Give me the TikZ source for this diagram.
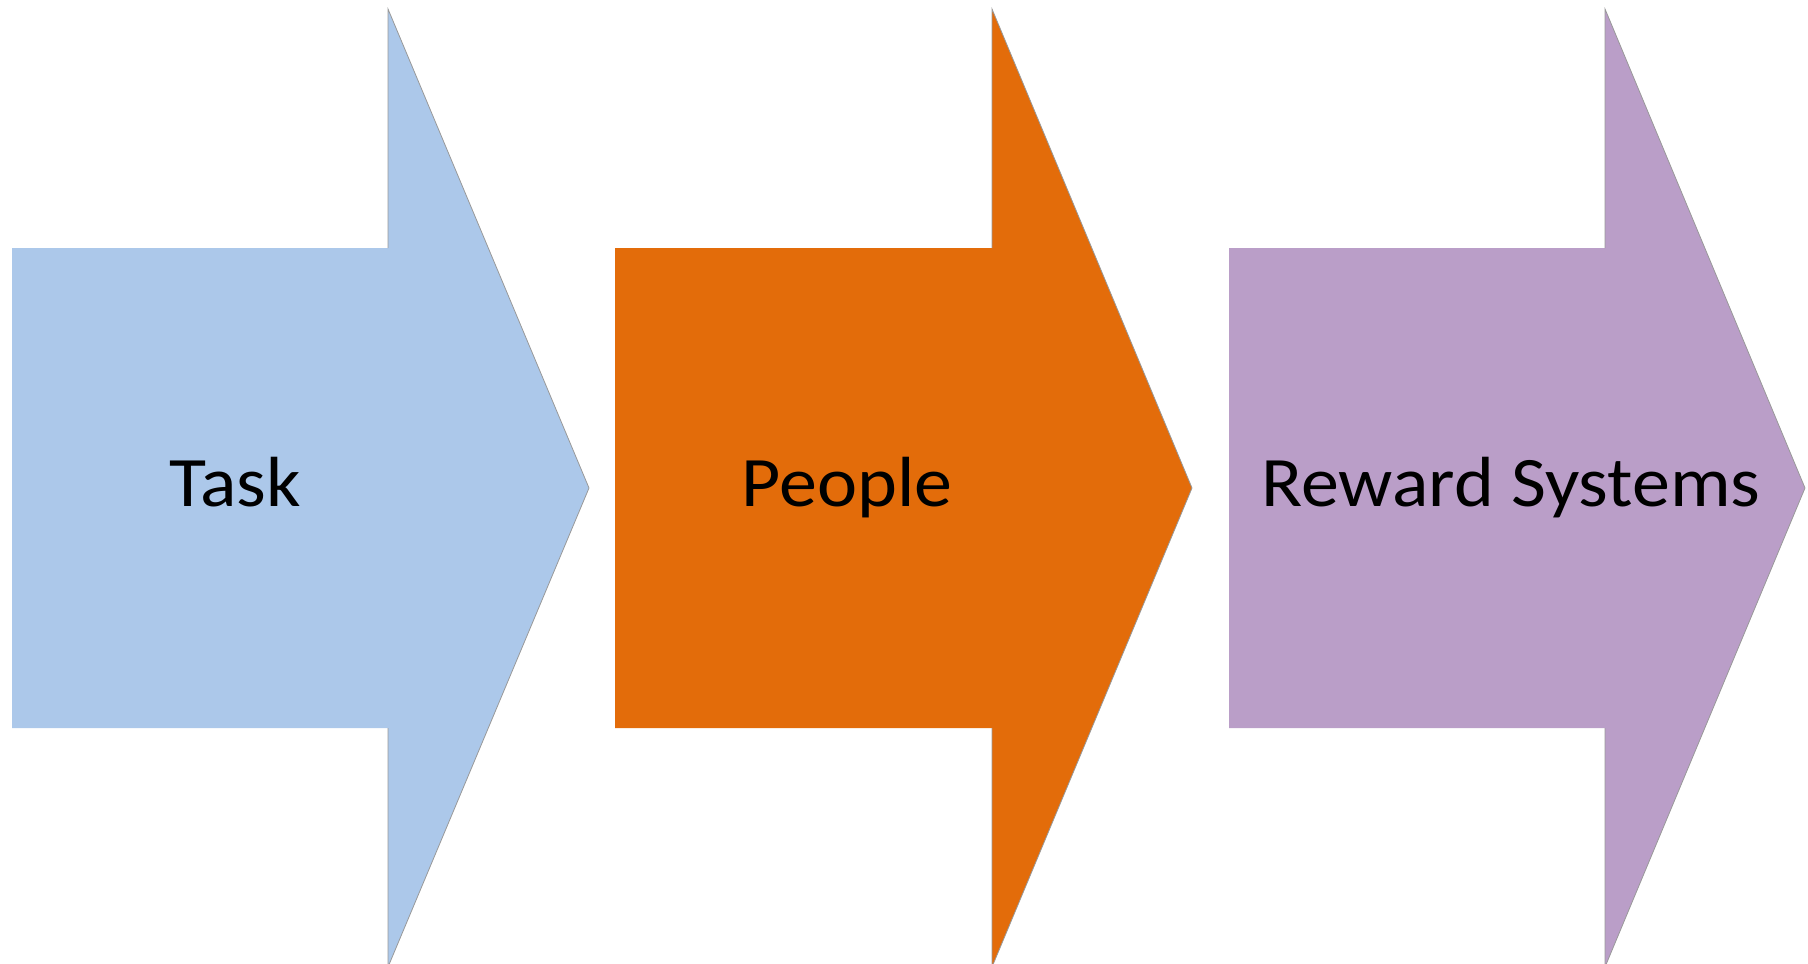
\documentclass[tikz,border=0pt]{standalone}
\usepackage{fontspec}
\setmainfont{Carlito}[FakeStretch=1.07]
\definecolor{taskblue}{HTML}{ACC8EA}
\definecolor{peopleorange}{HTML}{E36C0A}
\definecolor{rewardpurple}{HTML}{BA9EC8}
\tikzset{
	headedge/.style={draw=gray!80, line width=0.8pt},
	steptext/.style={font=\fontsize{71}{85}\selectfont, anchor=base}
}
\begin{document}
\begin{tikzpicture}[x=1pt, y=-1pt]
	\useasboundingbox (0,0) rectangle (1808,964);
	% Task
	\fill[taskblue] (12,248) -- (388,248) -- (388,9) -- (589,488) -- (388,967) -- (388,728) -- (12,728) -- cycle;
	\draw[headedge] (388,248) -- (388,9) -- (589,488) -- (388,967) -- (388,728);
	\node (task) [steptext] at (235,506) {Task};
	% People
	\fill[peopleorange] (615,248) -- (992,248) -- (992,9) -- (1192,488) -- (992,967) -- (992,728) -- (615,728) -- cycle;
	\draw[headedge] (992,248) -- (992,9) -- (1192,488) -- (992,967) -- (992,728);
	\node (people) [steptext] at (847,506) {People};
	% Reward Systems
	\fill[rewardpurple] (1229,248) -- (1605,248) -- (1605,9) -- (1805,488) -- (1605,967) -- (1605,728) -- (1229,728) -- cycle;
	\draw[headedge] (1605,248) -- (1605,9) -- (1805,488) -- (1605,967) -- (1605,728);
	\node (reward) [steptext] at (1511,506) {Reward Systems};
\end{tikzpicture}
\end{document}
